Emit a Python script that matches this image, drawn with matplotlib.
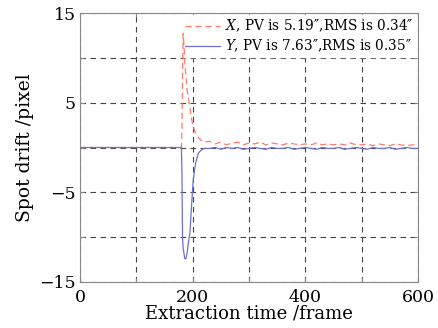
import matplotlib
matplotlib.use('Agg')
import matplotlib.pyplot as plt
import numpy as np

# frame index and spot drift (pixel)
frames = [0, 100, 180, 181, 182, 183, 184, 185, 186, 188, 190, 192, 195, 198, 201,
          205, 210, 215, 220, 230, 240, 250, 260, 270, 280, 290, 300, 310, 320,
          330, 340, 350, 360, 370, 380, 390, 400, 410, 420, 430, 440, 450, 460,
          470, 480, 490, 500, 510, 520, 530, 540, 550, 560, 570, 580, 590, 600]
drift_x = [0.0, 0.0, 0.0, 2.0, 8.0, 12.7, 12.0, 11.0, 9.5, 8.0, 6.5, 5.6, 4.5, 3.2, 2.3,
           1.6, 1.1, 0.8, 0.6, 0.7, 0.4, 0.6, 0.3, 0.5, 0.6, 0.3, 0.5, 0.4, 0.6,
           0.3, 0.5, 0.4, 0.3, 0.5, 0.4, 0.3, 0.4, 0.3, 0.5, 0.3, 0.4, 0.3, 0.4,
           0.3, 0.5, 0.3, 0.3, 0.4, 0.2, 0.4, 0.3, 0.2, 0.4, 0.3, 0.2, 0.3, 0.3]
drift_y = [0.0, 0.0, 0.0, -3.0, -10.0, -11.2, -11.6, -12.0, -12.4, -12.4, -11.8, -10.8, -9.6, -6.5, -3.6,
           -1.8, -0.65, -0.3, -0.1, -0.1, 0.0, -0.2, 0.0, -0.1, 0.0, -0.2, -0.1, 0.0, -0.1,
           -0.2, 0.0, -0.1, -0.1, 0.0, -0.2, -0.1, 0.0, -0.1, -0.2, 0.0, -0.1, -0.1, 0.0,
           -0.2, -0.1, 0.0, -0.1, -0.2, 0.0, -0.1, -0.1, 0.0, -0.2, -0.1, 0.0, -0.1, -0.1]

label_x = r'$X$, PV is 5.19″,RMS is 0.34″'
label_y = r'$Y$, PV is 7.63″,RMS is 0.35″'

plt.rcParams['font.family'] = 'DejaVu Serif'
plt.rcParams['mathtext.fontset'] = 'dejavuserif'

fig = plt.figure(figsize=(4.38, 3.28), dpi=100)
ax = fig.add_axes([80 / 438, 1 - 282 / 328, 338 / 438, 269 / 328])

ax.plot(frames, drift_x, color='#ff7a66', linestyle=(0, (5, 3)), linewidth=0.9,
        label=label_x, zorder=3)
ax.plot(frames, drift_y, color='#6f6fd8', linestyle='-', linewidth=0.9,
        label=label_y, zorder=3)

ax.set_xlim(0, 600)
ax.set_ylim(-15, 15)
ax.set_xticks(np.arange(0, 601, 100))
ax.set_xticklabels(['0', '', '200', '', '400', '', '600'])
ax.set_yticks(np.arange(-15, 16, 5))
ax.set_yticklabels(['\u221215', '', '\u22125', '', '5', '', '15'])
ax.tick_params(direction='in', length=3, top=True, right=True, labelsize=12.5,
               color='#888888')
ax.tick_params(axis='x', pad=5)
ax.tick_params(axis='y', pad=3)
ax.grid(True, color='#444444', linestyle=(0, (5, 4)), linewidth=0.8)
for s in ax.spines.values():
    s.set_color('#888888')

ax.set_xlabel('Extraction time /frame', fontsize=13, labelpad=-1)
ax.set_ylabel('Spot drift /pixel', fontsize=13.5, labelpad=4)

leg = ax.legend(loc='upper right', fontsize=9.8, frameon=True, fancybox=False,
                edgecolor='white', framealpha=1, borderaxespad=0.15,
                handlelength=2.6, handletextpad=0.3, labelspacing=0.25, borderpad=0.2)
leg.set_zorder(2.5)

fig.savefig('out.png', dpi=100)
